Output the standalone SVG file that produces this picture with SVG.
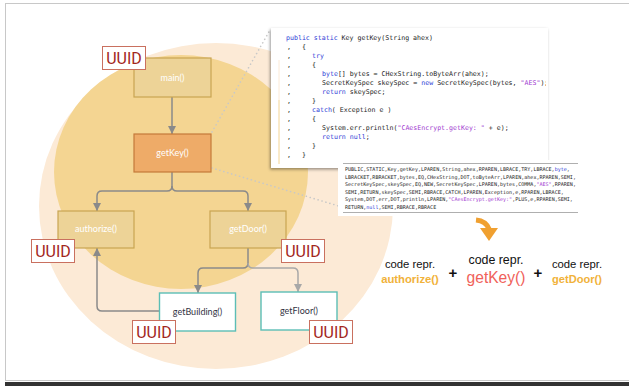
<svg xmlns="http://www.w3.org/2000/svg" width="629" height="386" viewBox="0 0 629 386">
  <style>
    .node-tan { fill: #EDD397; stroke: #C9A552; stroke-width: 1.2; }
    .node-key { fill: #EEAB68; stroke: #C47A3A; stroke-width: 1.2; }
    .node-leaf { fill: #FFFFFF; stroke: #5CBEB6; stroke-width: 1.4; }
    .lbl-w { font-family: Lato, "Liberation Sans", sans-serif; font-size: 9px; fill: #FFFFFF; text-anchor: middle; }
    .lbl-d { font-family: Lato, "Liberation Sans", sans-serif; font-size: 9px; fill: #333344; text-anchor: middle; }
    .uuid-box { fill: #FFFFFF; stroke: #C9705F; stroke-width: 1; }
    .uuid { font-family: Roboto, "Liberation Sans", sans-serif; font-size: 16px; fill: #A3271C; text-anchor: middle; }
    .conn { fill: none; stroke: #8A8A8A; stroke-width: 1.5; }
    .conn-l { fill: none; stroke: #A8A8A8; stroke-width: 1.5; }
    .dots { fill: none; stroke: #C8C8C8; stroke-width: 1.6; stroke-linecap: round; stroke-dasharray: 0.1 4; }
    .code { font-family: "DejaVu Sans Mono", "Liberation Mono", monospace; font-size: 6.6px; fill: #1E1E1E; }
    .tok { font-family: "DejaVu Sans Mono", "Liberation Mono", monospace; font-size: 5.05px; fill: #1E1E1E; }
    .kw { fill: #2F3ED6; }
    .str { fill: #A23BD0; }
    .repr { font-family: "Liberation Sans", Arial, sans-serif; fill: #111111; text-anchor: middle; }
    .plus { font-family: "Liberation Sans", Arial, sans-serif; font-weight: bold; font-size: 15px; fill: #111111; text-anchor: middle; }
  </style>
  <defs>
    <marker id="arrow" viewBox="0 0 10 10" refX="10" refY="5" markerWidth="9" markerHeight="8" markerUnits="userSpaceOnUse" orient="auto">
      <path d="M0,0 L10,5 L0,10 z" fill="#8A8A8A"/>
    </marker>
    <marker id="arrow-l" viewBox="0 0 10 10" refX="10" refY="5" markerWidth="9" markerHeight="8" markerUnits="userSpaceOnUse" orient="auto">
      <path d="M0,0 L10,5 L0,10 z" fill="#A8A8A8"/>
    </marker>
    <filter id="shadow" x="-5%" y="-5%" width="110%" height="115%">
      <feDropShadow dx="-1" dy="1.5" stdDeviation="1.4" flood-color="#000000" flood-opacity="0.4"/>
    </filter>
    <clipPath id="codeClip">
      <rect x="271" y="28" width="275" height="140"/>
    </clipPath>
  </defs>

  <!-- page frame -->
  <rect x="5.5" y="3.5" width="630" height="377" fill="#FFFFFF" stroke="#C8C8C8" stroke-width="1"/>
  <rect x="5" y="382" width="630" height="4" fill="#333333"/>

  <!-- scope backdrops -->
  <ellipse cx="216" cy="206" rx="177" ry="163" fill="#FCEAD6"/>
  <ellipse cx="181" cy="172" rx="127" ry="117" fill="#F4D592"/>

  <!-- zoom guides from getKey() to its source -->
  <g id="guides">
    <line class="dots" x1="212" y1="132" x2="270" y2="30"/>
    <line class="dots" x1="212" y1="168" x2="342" y2="207"/>
  </g>

  <!-- connectors -->
  <g id="connectors">
    <path class="conn" d="M172,97 V134" marker-end="url(#arrow)"/>
    <path class="conn" d="M172,172 V186 Q172,191 167,191 H102 Q97,191 97,196 V211" marker-end="url(#arrow)"/>
    <path class="conn" d="M172,186 Q172,191 177,191 H243 Q248,191 248,196 V211" marker-end="url(#arrow)"/>
    <path class="conn" d="M248,248 V263 Q248,268 243,268 H203 Q198,268 198,273 V293" marker-end="url(#arrow)"/>
    <path class="conn-l" d="M248,263 Q248,268 253,268 H293 Q298,268 298,273 V292" marker-end="url(#arrow-l)"/>
    <path class="conn" d="M159,311 H102 Q97,311 97,306 V248" marker-end="url(#arrow)"/>
  </g>

  <!-- call graph nodes -->
  <g id="node-main">
    <rect class="node-tan" x="134" y="58" width="77" height="39"/>
    <text class="lbl-w" x="172.5" y="81">main()</text>
  </g>
  <g id="node-getKey">
    <rect class="node-key" x="134" y="134" width="77" height="38"/>
    <text class="lbl-w" x="172.5" y="156">getKey()</text>
  </g>
  <g id="node-authorize">
    <rect class="node-tan" x="58" y="211" width="76" height="37"/>
    <text class="lbl-w" x="96" y="232">authorize()</text>
  </g>
  <g id="node-getDoor">
    <rect class="node-tan" x="210" y="211" width="76" height="37"/>
    <text class="lbl-w" x="248" y="232">getDoor()</text>
  </g>
  <g id="node-getBuilding">
    <rect class="node-leaf" x="159.5" y="293" width="76" height="38"/>
    <text class="lbl-d" x="197.5" y="314.5">getBuilding()</text>
  </g>
  <g id="node-getFloor">
    <rect class="node-leaf" x="261" y="292" width="76" height="38"/>
    <text class="lbl-d" x="299" y="314">getFloor()</text>
  </g>

  <!-- UUID tags -->
  <g id="uuid-main">
    <rect class="uuid-box" x="102.5" y="46.5" width="43" height="23"/>
    <text class="uuid" x="124" y="64">UUID</text>
  </g>
  <g id="uuid-authorize">
    <rect class="uuid-box" x="31.5" y="239.5" width="43" height="23"/>
    <text class="uuid" x="53" y="257">UUID</text>
  </g>
  <g id="uuid-getDoor">
    <rect class="uuid-box" x="281.5" y="239.5" width="43" height="23"/>
    <text class="uuid" x="303" y="257">UUID</text>
  </g>
  <g id="uuid-getBuilding">
    <rect class="uuid-box" x="132.5" y="320.5" width="43" height="23"/>
    <text class="uuid" x="154" y="338">UUID</text>
  </g>
  <g id="uuid-getFloor">
    <rect class="uuid-box" x="309.5" y="320.5" width="43" height="23"/>
    <text class="uuid" x="331" y="338">UUID</text>
  </g>

  <!-- source listing of getKey() -->
  <g id="code-listing">
    <rect x="271" y="28" width="277" height="140" fill="#FFFFFF" filter="url(#shadow)"/>
    <line x1="279" y1="60" x2="279" y2="100" stroke="#FCEAD6" stroke-width="1"/>
    <line x1="279" y1="100" x2="279" y2="164" stroke="#F4D592" stroke-width="1"/>
    <g clip-path="url(#codeClip)" class="code">
      <text x="286" y="39.5"><tspan class="kw">public</tspan> <tspan class="kw">static</tspan> Key getKey(String ahex)</text>
      <text x="287" y="48.5">,</text><text x="302" y="48.5">{</text>
      <text x="287" y="57.6">,</text><text x="312" y="57.6" class="kw">try</text>
      <text x="287" y="66.6">,</text><text x="312" y="66.6">{</text>
      <text x="287" y="75.7">,</text><text x="322" y="75.7"><tspan class="kw">byte</tspan>[] bytes = CHexString.toByteArr(ahex);</text>
      <text x="287" y="84.7">,</text><text x="322" y="84.7">SecretKeySpec skeySpec = <tspan class="kw">new</tspan> SecretKeySpec(bytes, <tspan class="str">"AES"</tspan>);</text>
      <text x="287" y="93.8">,</text><text x="322" y="93.8"><tspan class="kw">return</tspan> skeySpec;</text>
      <text x="287" y="102.8">,</text><text x="312" y="102.8">}</text>
      <text x="287" y="111.9">,</text><text x="312" y="111.9"><tspan class="kw">catch</tspan>( Exception e )</text>
      <text x="287" y="120.9">,</text><text x="312" y="120.9">{</text>
      <text x="287" y="130">,</text><text x="322" y="130">System.err.println(<tspan class="str">"CAesEncrypt.getKey: "</tspan> + e);</text>
      <text x="287" y="139">,</text><text x="322" y="139"><tspan class="kw">return</tspan> <tspan class="kw">null</tspan>;</text>
      <text x="287" y="148.1">,</text><text x="312" y="148.1">}</text>
      <text x="287" y="157.1">,</text><text x="302" y="157.1">}</text>
    </g>
  </g>

  <!-- token sequence -->
  <g id="token-sequence">
    <rect x="338" y="160" width="246" height="56" fill="#FFFFFF"/>
    <line x1="343" y1="163.5" x2="578" y2="163.5" stroke="#9A9A9A" stroke-width="0.8"/>
    <line x1="343" y1="212.5" x2="578" y2="212.5" stroke="#9A9A9A" stroke-width="0.8"/>
    <g class="tok">
      <text x="345" y="171.2">PUBLIC,STATIC,Key,getKey,LPAREN,String,ahex,RPAREN,LBRACE,TRY,LBRACE,<tspan class="kw">byte</tspan>,</text>
      <text x="345" y="178.7">LBRACKET,RBRACKET,bytes,EQ,CHexString,DOT,toByteArr,LPAREN,ahex,RPAREN,SEMI,</text>
      <text x="345" y="186.2">SecretKeySpec,skeySpec,EQ,NEW,SecretKeySpec,LPAREN,bytes,COMMA,<tspan class="str">"AES"</tspan>,RPAREN,</text>
      <text x="345" y="193.8">SEMI,RETURN,skeySpec,SEMI,RBRACE,CATCH,LPAREN,Exception,e,RPAREN,LBRACE,</text>
      <text x="345" y="201.3">System,DOT,err,DOT,println,LPAREN,<tspan class="str">"CAesEncrypt.getKey:"</tspan>,PLUS,e,RPAREN,SEMI,</text>
      <text x="345" y="208.8">RETURN,<tspan class="kw">null</tspan>,SEMI,RBRACE,RBRACE</text>
    </g>
  </g>

  <!-- downward arrow to the combined representation -->
  <g id="combine-arrow">
    <path d="M476,220 Q486,221 489,229" fill="none" stroke="#F0A030" stroke-width="5"/>
    <path d="M480,228 L498,228 L489,241 z" fill="#F0A030"/>
  </g>

  <!-- combined code representation -->
  <g id="combined">
    <text class="repr" x="410" y="268" font-size="11.3">code repr.</text>
    <text class="repr" x="410" y="283" font-size="11.3" font-weight="bold" style="fill:#F1B23A">authorize()</text>
    <text class="plus" x="453" y="278">+</text>
    <text class="repr" x="496" y="264" font-size="12.4">code repr.</text>
    <text class="repr" x="496" y="283" font-size="15.6" style="fill:#F0625A">getKey()</text>
    <text class="plus" x="538" y="278">+</text>
    <text class="repr" x="577" y="268" font-size="11.3">code repr.</text>
    <text class="repr" x="577" y="283" font-size="11.1" font-weight="bold" style="fill:#F1B23A">getDoor()</text>
  </g>
</svg>
